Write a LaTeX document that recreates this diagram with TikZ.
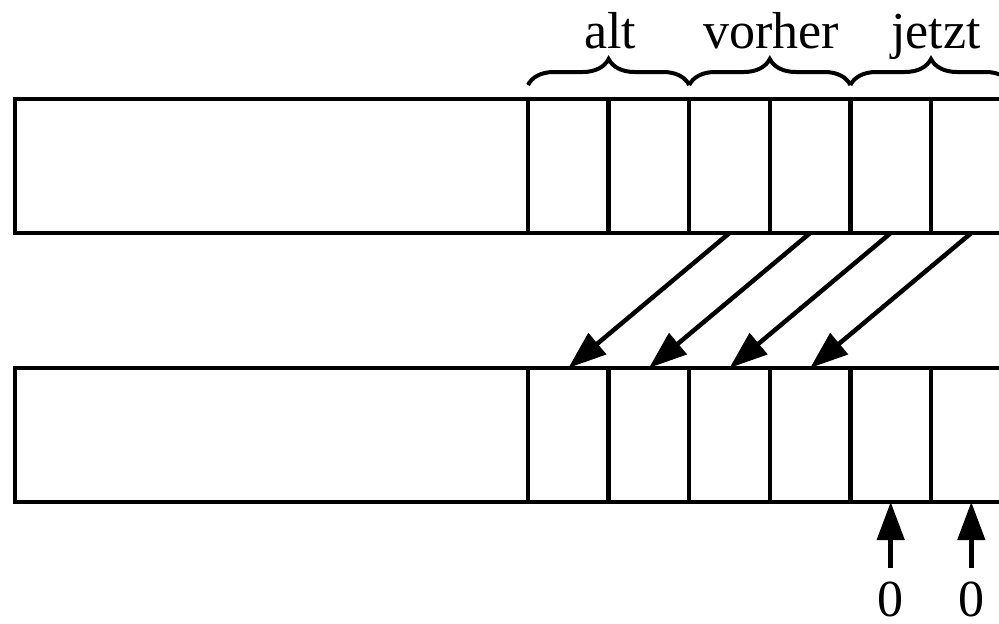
\documentclass[tikz,border=0pt]{standalone}
\usepackage{fontspec}
\setmainfont{Liberation Serif}
\usetikzlibrary{arrows.meta,decorations.pathreplacing,positioning}
\begin{document}
\begin{tikzpicture}[x=1pt,y=-1pt,
  line width=4.5pt,
  cellbox/.style={draw,line width=4.5pt,minimum width=80.6pt,minimum height=134pt,inner sep=0pt,anchor=north west,outer sep=0pt},
  widebox/.style={draw,line width=4.5pt,minimum width=513pt,minimum height=134pt,inner sep=0pt,anchor=north west,outer sep=0pt},
  bigarrow/.style={-{Triangle[length=38pt,width=27pt]},line width=4.5pt},
  lbl/.style={font=\fontsize{52}{62}\selectfont,inner sep=0pt,anchor=base},
  bracedeco/.style={decorate,decoration={brace,amplitude=26pt},line width=4pt}]
\useasboundingbox (0,0) rectangle (999,624);
\clip (0,0) rectangle (999,624);
% top register
\node[widebox] (tw) at (15,99) {};
\foreach \i in {1,...,6}{
  \node[cellbox] (t\i) at ({528+(\i-1)*80.6},99) {};
}
% bottom register
\node[widebox] (bw) at (15,368) {};
\foreach \i in {1,...,6}{
  \node[cellbox] (b\i) at ({528+(\i-1)*80.6},368) {};
}
% braces
\draw[bracedeco] ([yshift=14pt]t1.north west) -- ([yshift=14pt]t2.north east);
\draw[bracedeco] ([yshift=14pt]t3.north west) -- ([yshift=14pt]t4.north east);
\draw[bracedeco] ([yshift=14pt]t5.north west) -- ([yshift=14pt]t6.north east);
\node[lbl] (alt) at (610,48) {alt};
\node[lbl] (vorher) at (771,48) {vorher};
\node[lbl] (jetzt) at (936,48) {jetzt};
% shift arrows
\draw[bigarrow] (t3.south) -- (b1.north);
\draw[bigarrow] (t4.south) -- (b2.north);
\draw[bigarrow] (t5.south) -- (b3.north);
\draw[bigarrow] (t6.south) -- (b4.north);
% zero inputs
\node[lbl] (z1) at (b5.south |- 0,616) {0};
\node[lbl] (z2) at (b6.south |- 0,616) {0};
\coordinate (z1s) at (b5.south |- 0,568);
\coordinate (z2s) at (b6.south |- 0,568);
\draw[bigarrow] (z1s) -- (b5.south);
\draw[bigarrow] (z2s) -- (b6.south);
\end{tikzpicture}
\end{document}
